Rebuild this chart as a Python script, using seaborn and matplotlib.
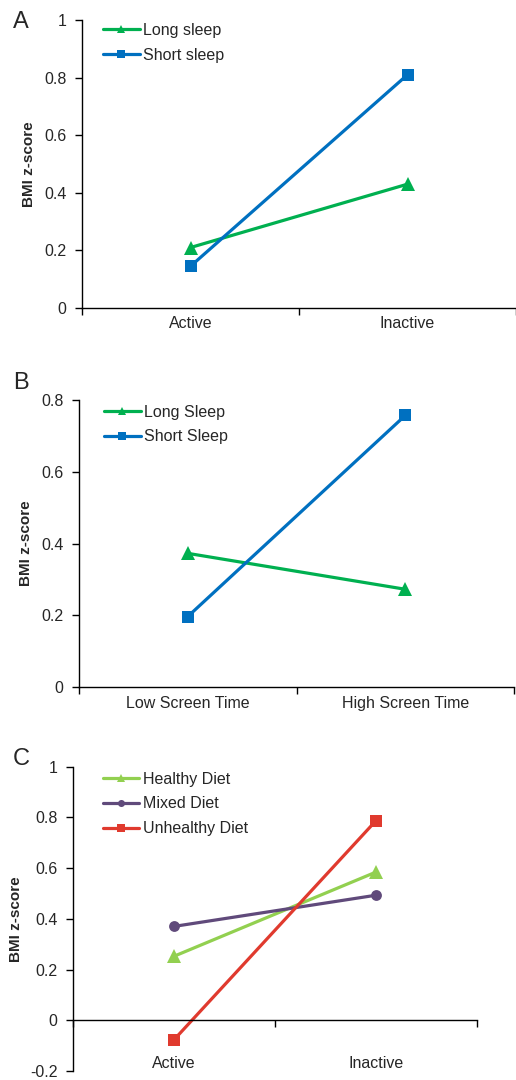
import pandas as pd
import matplotlib
matplotlib.use('Agg')
import matplotlib.pyplot as plt
from matplotlib.ticker import FuncFormatter, FixedLocator
import seaborn as sns

# Panel A: physical activity x sleep
activity = ['Active', 'Inactive']
long_sleep_a = [0.21, 0.43]
short_sleep_a = [0.145, 0.81]

# Panel B: screen time x sleep
screen = ['Low Screen Time', 'High Screen Time']
long_sleep_b = [0.373, 0.273]
short_sleep_b = [0.197, 0.757]

# Panel C: activity x diet
healthy_c = [0.252, 0.584]
mixed_c = [0.37, 0.493]
unhealthy_c = [-0.078, 0.786]

sns.set_style('ticks')
plt.rcParams['font.family'] = ['Liberation Sans', 'DejaVu Sans']

green = '#00B050'
blue = '#0070C0'
lgreen = '#92D050'
purple = '#604A7B'
red = '#E03A2E'


def long_df(cats, series):
    rows = []
    for name, vals in series.items():
        for c, v in zip(cats, vals):
            rows.append({'x': c, 'bmi': v, 'group': name})
    return pd.DataFrame(rows)


def draw(ax, df, styles, ylim, yticks, leg_xy, label_x, xpad=6, xzero=False):
    for name, (col, mk, ms) in styles.items():
        sub = df[df['group'] == name]
        sns.lineplot(data=sub, x='x', y='bmi', ax=ax, color=col, marker=mk,
                     markersize=ms, markeredgecolor=col, markeredgewidth=0,
                     linewidth=2.3, label=name, sort=False)
    ax.set_xlim(-0.5, 1.5)
    ax.set_ylim(*ylim)
    ax.set_yticks(yticks)
    ax.yaxis.set_major_formatter(FuncFormatter(lambda v, p: '%g' % round(v, 2)))
    ax.xaxis.set_minor_locator(FixedLocator([-0.5, 0.5, 1.5]))
    ax.tick_params(axis='x', which='major', length=0, labelsize=11.5, pad=xpad)
    ax.tick_params(axis='x', which='minor', bottom=True, length=5, width=1,
                   direction='out', color='black')
    ax.tick_params(axis='y', left=True, length=5, width=1, direction='out',
                   color='black', labelsize=11.5, pad=6)
    for s in ['top', 'right']:
        ax.spines[s].set_visible(False)
    for s in ['left', 'bottom']:
        ax.spines[s].set_color('black')
        ax.spines[s].set_linewidth(1)
    if xzero:
        ax.spines['bottom'].set_position(('data', 0))
    ax.set_xlabel('')
    ax.set_ylabel('BMI z-score', fontsize=11, fontweight='bold')
    ax.yaxis.set_label_coords(label_x, 0.5)
    ax.legend(loc='upper left', bbox_to_anchor=leg_xy, frameon=False, fontsize=11.5,
              borderpad=0, borderaxespad=0, handlelength=2.3, handletextpad=0.2,
              labelspacing=0.62, markerscale=0.65)


fig = plt.figure(figsize=(5.16, 10.8), dpi=100)

ax_a = fig.add_axes([82 / 516, 1 - 308 / 1080, 434 / 516, 288 / 1080])
df_a = long_df(activity, {'Long sleep': long_sleep_a, 'Short sleep': short_sleep_a})
draw(ax_a, df_a, {'Long sleep': (green, '^', 9.5), 'Short sleep': (blue, 's', 8.5)},
     (0, 1), [0, 0.2, 0.4, 0.6, 0.8, 1], (0.048, 0.99), -0.106)

ax_b = fig.add_axes([79 / 516, 1 - 687.3 / 1080, 435 / 516, 287.3 / 1080])
df_b = long_df(screen, {'Long Sleep': long_sleep_b, 'Short Sleep': short_sleep_b})
draw(ax_b, df_b, {'Long Sleep': (green, '^', 9.5), 'Short Sleep': (blue, 's', 8.5)},
     (0, 0.8), [0, 0.2, 0.4, 0.6, 0.8], (0.057, 0.984), -0.106)

ax_c = fig.add_axes([72.7 / 516, 1 - 1071 / 1080, 404 / 516, 304.3 / 1080])
df_c = long_df(activity, {'Healthy Diet': healthy_c, 'Mixed Diet': mixed_c,
                          'Unhealthy Diet': unhealthy_c})
draw(ax_c, df_c, {'Healthy Diet': (lgreen, '^', 9.5), 'Mixed Diet': (purple, 'o', 7.8),
                  'Unhealthy Diet': (red, 's', 8.5)},
     (-0.2, 1), [-0.2, 0, 0.2, 0.4, 0.6, 0.8, 1], (0.074, 0.984), -0.122,
     xpad=26, xzero=True)

fig.text(13 / 516, 1 - 28.3 / 1080, 'A', fontsize=17, va='baseline')
fig.text(13 / 516, 1 - 389.3 / 1080, 'B', fontsize=17, va='baseline')
fig.text(13 / 516, 1 - 765 / 1080, 'C', fontsize=17, va='baseline')

fig.savefig('out.png', dpi=100)
